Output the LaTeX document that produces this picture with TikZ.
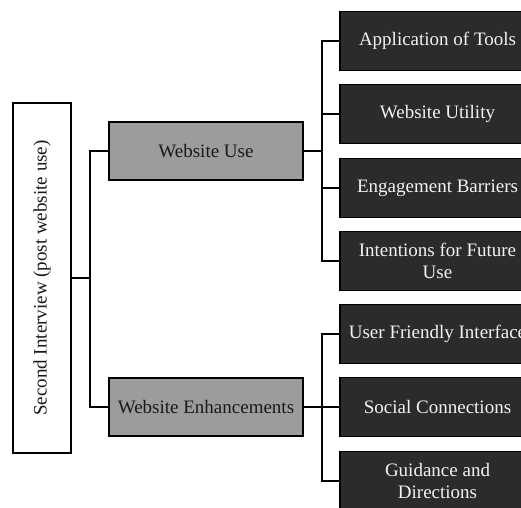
\documentclass[tikz,border=0pt]{standalone}
\usepackage{fontspec}
\setmainfont{Liberation Serif}
\begin{document}
\begin{tikzpicture}[x=1pt,y=1pt,
  conn/.style={line width=1.4pt, black},
  rootbox/.style={draw=black, line width=1.4pt, fill=white, minimum width=350pt, minimum height=58pt, rotate=90, inner sep=0pt, font=\fontsize{19}{22}\selectfont, text=black!90},
  midbox/.style={draw=black, line width=1.4pt, fill=black!39, minimum width=194pt, minimum height=58pt, inner sep=0pt, font=\fontsize{19}{22}\selectfont, text=black!90},
  leafbox/.style={draw=black, line width=1.2pt, fill=black!83, minimum width=195pt, minimum height=59pt, inner sep=0pt, align=center, font=\fontsize{19}{22}\selectfont, text=white!95!black}]
\useasboundingbox (0,0) rectangle (521,507);
\clip (0,0) rectangle (521,507);
\fill[white] (0,0) rectangle (521,507);
\node[rootbox] (root) at (42,229) {Second Interview (post website use)};
\node[midbox] (wu) at (206,356) {Website Use};
\node[midbox] (we) at (206,100) {Website Enhancements};
\node[leafbox] (r1) at (437.5,466) {Application of Tools};
\node[leafbox] (r2) at (437.5,393) {Website Utility};
\node[leafbox] (r3) at (437.5,319) {Engagement Barriers};
\node[leafbox] (r4) at (437.5,246) {Intentions for Future\\Use};
\node[leafbox] (r5) at (437.5,173) {User Friendly Interface};
\node[leafbox] (r6) at (437.5,100) {Social Connections};
\node[leafbox] (r7) at (437.5,26) {Guidance and\\Directions};
\coordinate (j1) at (90,229);
\coordinate (j2) at (322,356);
\coordinate (j3) at (322,100);
\draw[conn] (root.south) -- (j1);
\draw[conn] (wu.west) -| (j1) |- (we.west);
\draw[conn] (wu.east) -- (j2);
\draw[conn] (r1.west) -| (j2) |- (r4.west);
\draw[conn] (r2.west) -- (r2.west -| j2);
\draw[conn] (r3.west) -- (r3.west -| j2);
\draw[conn] (we.east) -- (j3);
\draw[conn] (r5.west) -| (j3) |- (r7.west);
\draw[conn] (j3) -- (r6.west);
\end{tikzpicture}
\end{document}
